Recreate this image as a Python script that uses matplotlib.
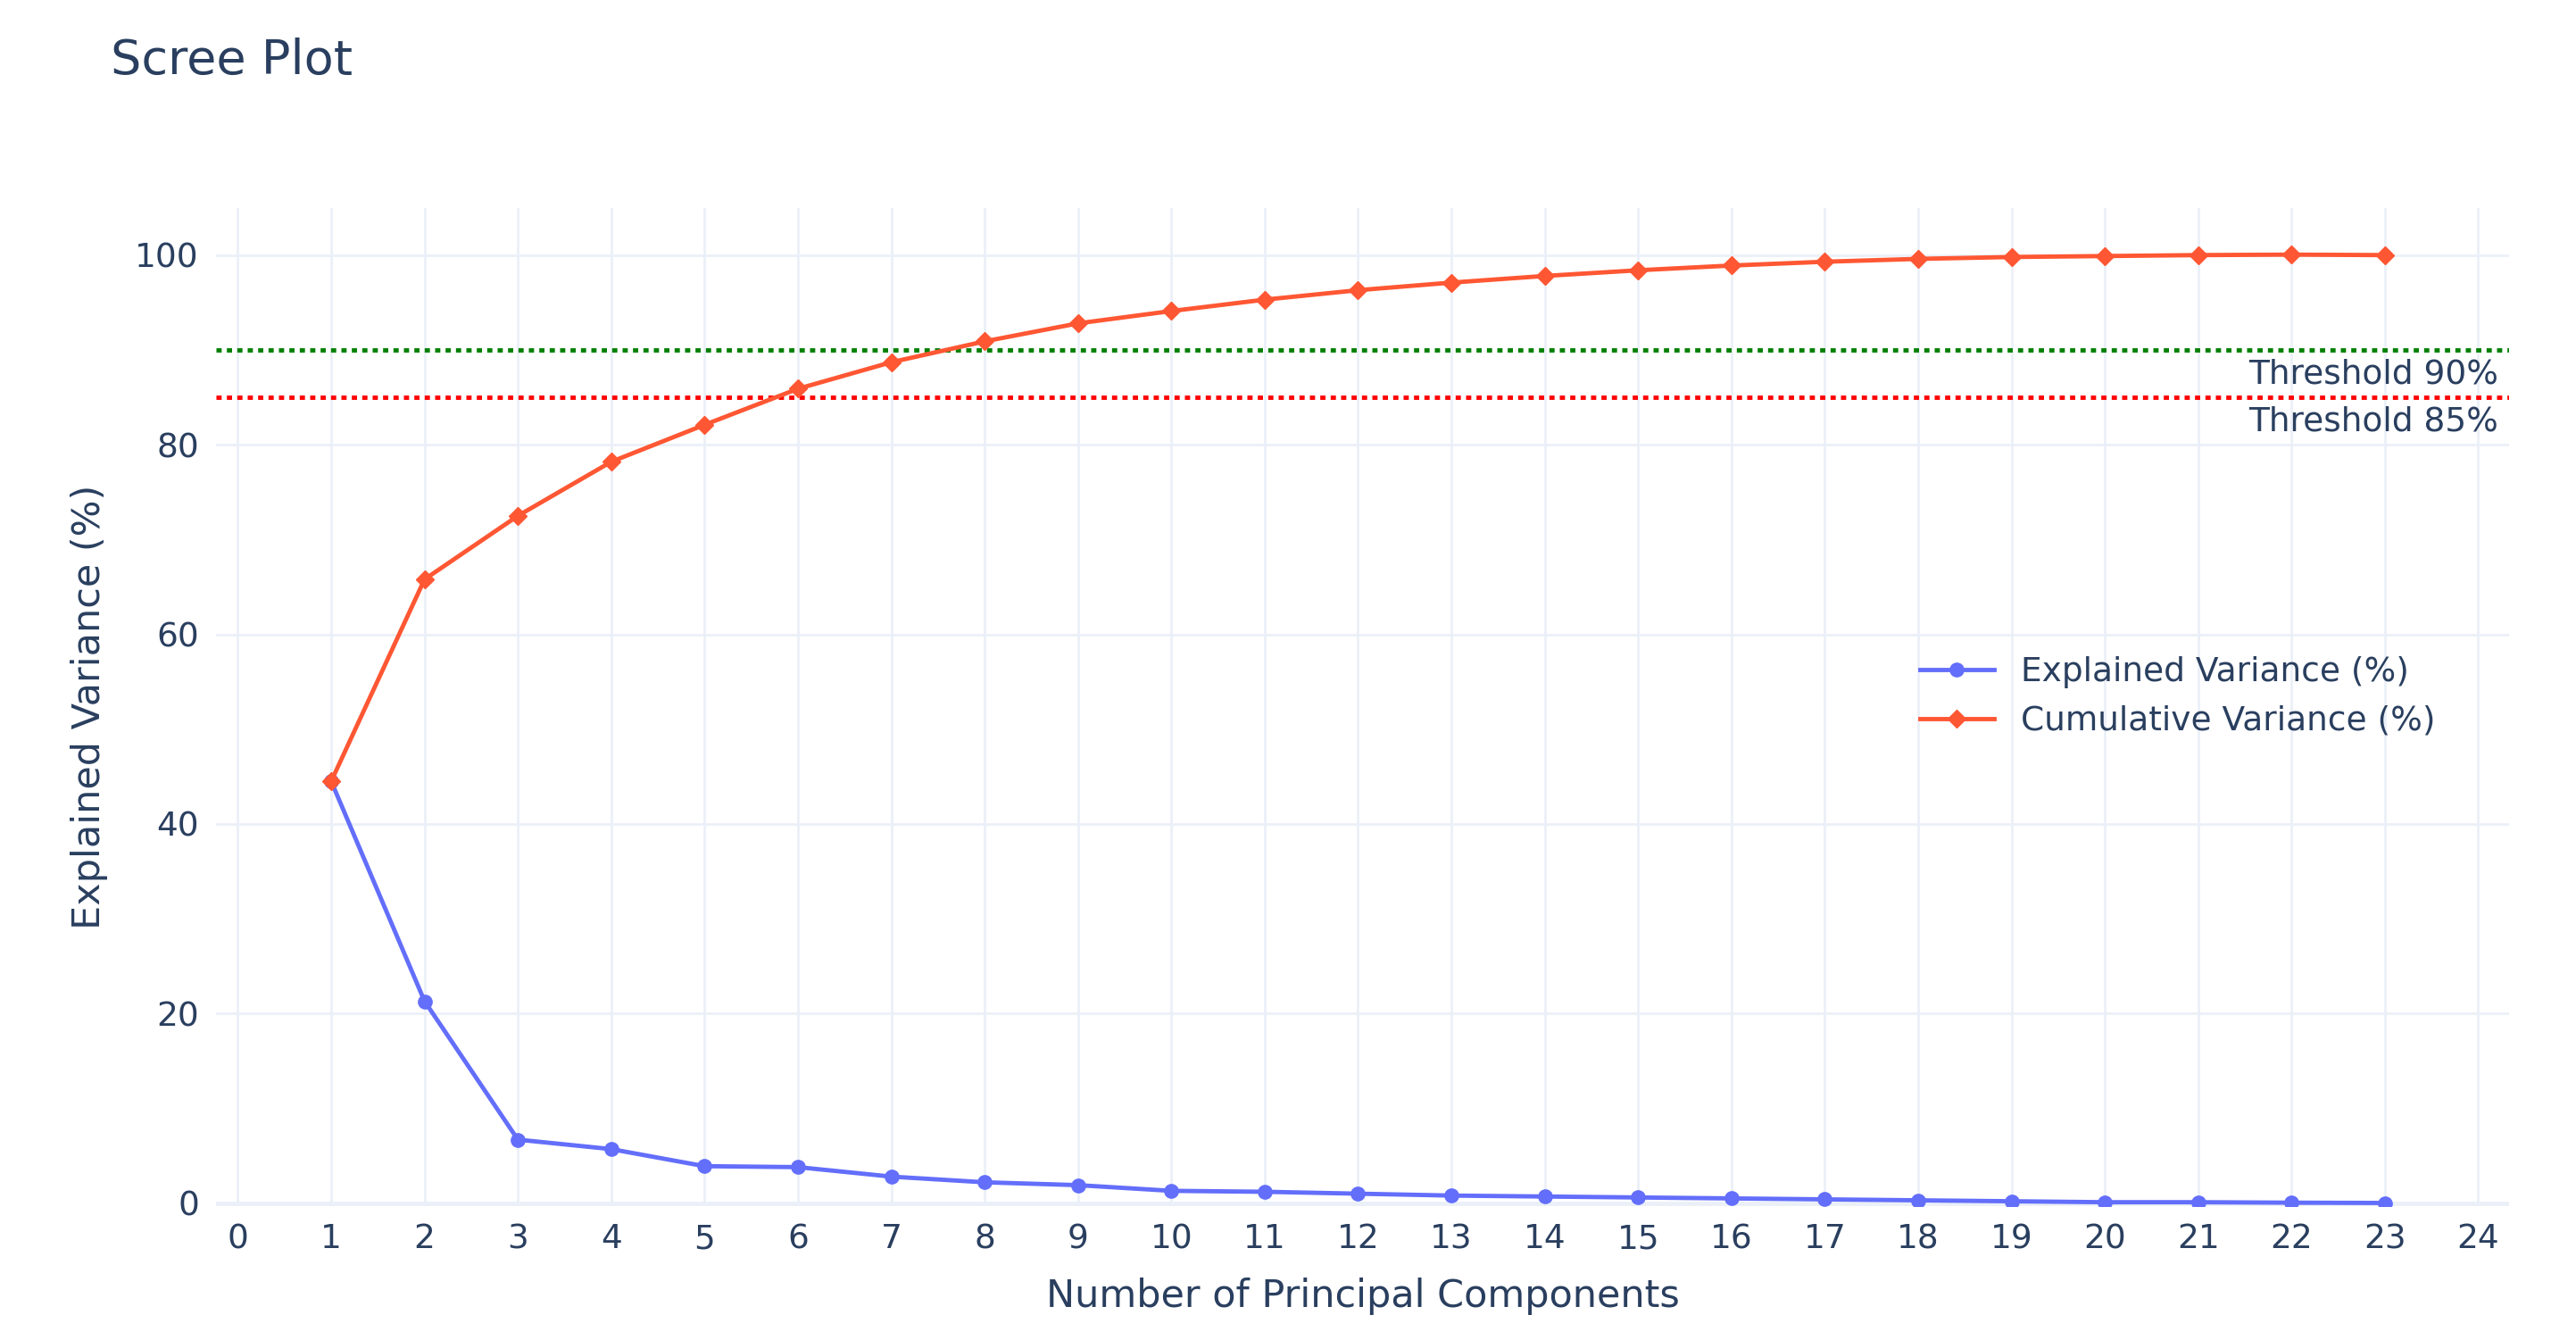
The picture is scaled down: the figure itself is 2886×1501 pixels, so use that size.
import matplotlib
matplotlib.use("Agg")
import matplotlib.pyplot as plt

components = list(range(1, 24))
explained = [44.5, 21.3, 6.7, 5.7, 3.9, 3.8, 2.8, 2.2, 1.9, 1.3, 1.2, 1.0,
             0.8, 0.7, 0.6, 0.5, 0.4, 0.3, 0.2, 0.1, 0.1, 0.05, 0.02]
cumulative = [44.5, 65.8, 72.5, 78.2, 82.1, 85.9, 88.7, 90.9, 92.8, 94.1, 95.3, 96.3,
              97.1, 97.8, 98.4, 98.9, 99.3, 99.6, 99.8, 99.9, 100.0, 100.05, 100.0]
thresholds = [90, 85]
threshold_colors = ["green", "red"]
x_ticks = list(range(0, 25))
y_ticks = [0, 20, 40, 60, 80, 100]

TEXT = "#2a3f5f"
GRID = "#ebf0f8"
plt.rcParams["font.family"] = ["DejaVu Sans"]

fig = plt.figure(figsize=(28.86, 15.01), dpi=100)
ax = fig.add_axes([0.084, 0.10, 0.89, 0.745])

ax.plot(components, explained, color="#636efa", lw=3.5, marker="o", ms=11,
        label="Explained Variance (%)", zorder=3)
ax.plot(components, cumulative, color="#ff5733", lw=3.5, marker="D", ms=10,
        label="Cumulative Variance (%)", zorder=3)

for t, c in zip(thresholds, threshold_colors):
    ax.axhline(t, color=c, lw=3.5, ls=(0, (1.2, 1.2)), zorder=2)
    ax.text(24.22, t - 0.9, f"Threshold {t}%", ha="right", va="top",
            fontsize=27, color=TEXT)

ax.set_xlim(-0.23, 24.33)
ax.set_ylim(-0.3, 105)
ax.set_xticks(x_ticks)
ax.set_yticks(y_ticks)
ax.grid(color=GRID, lw=2)
ax.axhline(0, color=GRID, lw=3.5, zorder=1)
for s in ax.spines.values():
    s.set_visible(False)
ax.tick_params(length=0, labelsize=27, labelcolor=TEXT, pad=14)
ax.set_xlabel("Number of Principal Components", fontsize=31, color=TEXT, labelpad=18)
ax.set_ylabel("Explained Variance (%)", fontsize=31, color=TEXT, labelpad=22)

fig.text(0.043, 0.955, "Scree Plot", fontsize=39, color=TEXT, va="center")

ax.legend(loc="center left", bbox_to_anchor=(0.73, 0.51), frameon=False,
          fontsize=27, labelcolor=TEXT, handlelength=2.2)

fig.savefig("out.png", dpi=100, facecolor="white")
